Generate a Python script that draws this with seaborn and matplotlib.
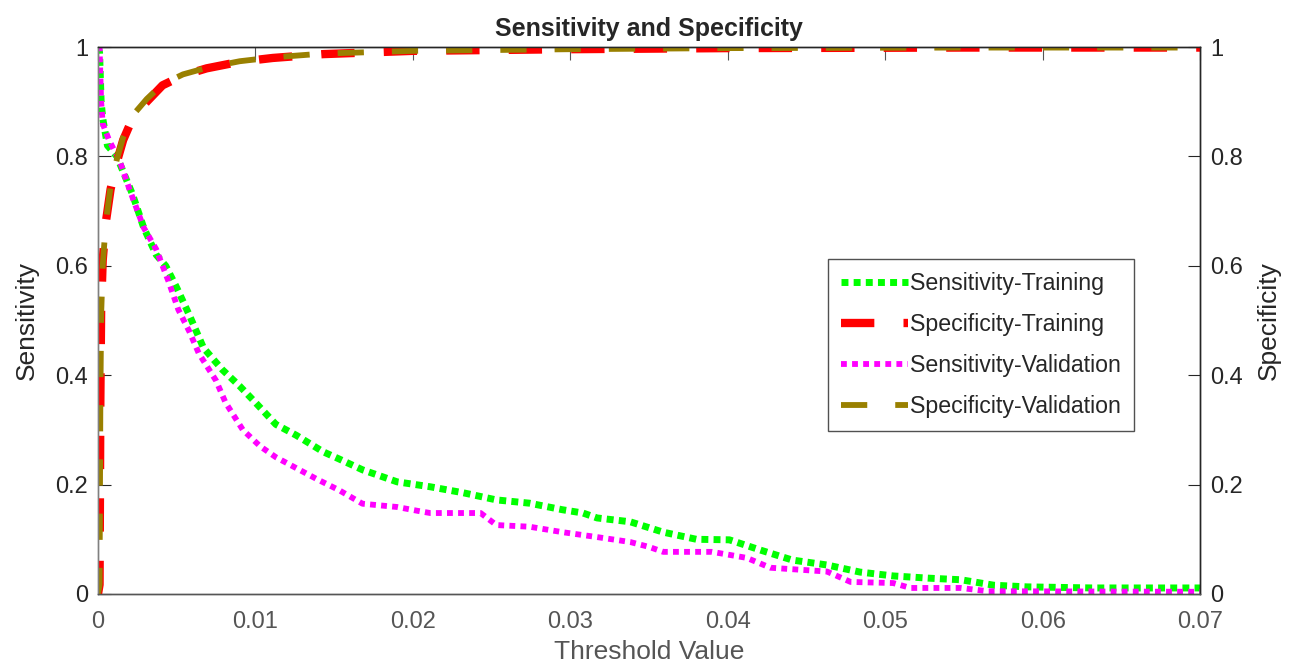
import numpy as np
import pandas as pd
import matplotlib
matplotlib.use("Agg")
import matplotlib.pyplot as plt
import seaborn as sns

# --- data ---
sens_train_x = [0.0, 0.0001, 0.0002, 0.0003, 0.0006, 0.0012, 0.0022, 0.0029, 0.0037, 0.0043,
                0.005, 0.0058, 0.0067, 0.0079, 0.009, 0.01, 0.0113, 0.0126, 0.0143, 0.0153,
                0.0168, 0.019, 0.0211, 0.0232, 0.0253, 0.0274, 0.0295, 0.0308, 0.0317, 0.0338,
                0.0359, 0.038, 0.0401, 0.0421, 0.0441, 0.0463, 0.0484, 0.0505, 0.0527, 0.0548,
                0.0569, 0.059, 0.0632, 0.07]
sens_train_y = [1.0, 0.99, 0.90, 0.87, 0.82, 0.80, 0.73, 0.67, 0.62, 0.60,
                0.56, 0.51, 0.45, 0.41, 0.38, 0.35, 0.31, 0.29, 0.26, 0.247,
                0.227, 0.205, 0.196, 0.185, 0.172, 0.166, 0.154, 0.148, 0.139, 0.132,
                0.113, 0.10, 0.099, 0.08, 0.062, 0.053, 0.04, 0.033, 0.029, 0.026,
                0.016, 0.013, 0.011, 0.011]

sens_val_x = [0.0, 0.0001, 0.0002, 0.0003, 0.0007, 0.0014, 0.002, 0.0029, 0.0037, 0.0045,
              0.0051, 0.0058, 0.0064, 0.0075, 0.0081, 0.0092, 0.0103, 0.0113, 0.0126, 0.0139,
              0.0153, 0.0168, 0.019, 0.0203, 0.0211, 0.0243, 0.0253, 0.0274, 0.0295, 0.0317,
              0.0338, 0.035, 0.0359, 0.039, 0.0412, 0.0427, 0.0463, 0.0478, 0.0505, 0.0516,
              0.0548, 0.0565, 0.07]
sens_val_y = [1.0, 1.0, 0.90, 0.86, 0.83, 0.79, 0.74, 0.67, 0.63, 0.57,
              0.52, 0.48, 0.44, 0.39, 0.35, 0.30, 0.27, 0.25, 0.23, 0.21,
              0.19, 0.165, 0.159, 0.152, 0.148, 0.148, 0.126, 0.123, 0.113, 0.104,
              0.095, 0.086, 0.077, 0.077, 0.066, 0.048, 0.041, 0.022, 0.020, 0.011,
              0.011, 0.005, 0.004]

spec_x = [0.0, 0.0001, 0.00015, 0.0002, 0.0003, 0.0005, 0.0008, 0.0012, 0.0016, 0.0022,
          0.0031, 0.0041, 0.0054, 0.0069, 0.009, 0.0111, 0.0143, 0.02, 0.03, 0.04,
          0.055, 0.07]
spec_train_y = [0.0, 0.017, 0.355, 0.52, 0.61, 0.68, 0.74, 0.79, 0.83, 0.87,
                0.90, 0.93, 0.948, 0.961, 0.973, 0.98, 0.987, 0.993, 0.996, 0.998,
                0.999, 0.999]
spec_val_y = [0.0, 0.017, 0.35, 0.51, 0.60, 0.68, 0.745, 0.795, 0.835, 0.875,
              0.905, 0.932, 0.95, 0.962, 0.974, 0.981, 0.988, 0.993, 0.996, 0.998,
              0.999, 0.999]

x_ticks = [0, 0.01, 0.02, 0.03, 0.04, 0.05, 0.06, 0.07]
x_tick_labels = ["0", "0.01", "0.02", "0.03", "0.04", "0.05", "0.06", "0.07"]
y_ticks = [0, 0.2, 0.4, 0.6, 0.8, 1.0]
y_tick_labels = ["0", "0.2", "0.4", "0.6", "0.8", "1"]

sens_train = pd.DataFrame({"x": sens_train_x, "y": sens_train_y})
sens_val = pd.DataFrame({"x": sens_val_x, "y": sens_val_y})
spec_train = pd.DataFrame({"x": spec_x, "y": spec_train_y})
spec_val = pd.DataFrame({"x": spec_x, "y": spec_val_y})

sns.set_style("white")
plt.rcParams["font.family"] = ["Liberation Sans", "DejaVu Sans"]

fig = plt.figure(figsize=(13.03, 6.65), dpi=100)
ax = fig.add_axes([0.0752, 0.1068, 0.8459, 0.8225])
ax2 = ax.twinx()

dark = "#262626"
xgray = "#555555"

sns.lineplot(data=sens_train, x="x", y="y", ax=ax, color="#00ff00", lw=5.0,
             linestyle=(0, (1, 0.75)), estimator=None, sort=False,
             label="Sensitivity-Training", legend=False)
sns.lineplot(data=sens_val, x="x", y="y", ax=ax, color="#ff00ff", lw=4.2,
             linestyle=(0, (1, 0.9)), estimator=None, sort=False,
             label="Sensitivity-Validation", legend=False)
sns.lineplot(data=spec_train, x="x", y="y", ax=ax2, color="#ff0000", lw=6.0,
             linestyle=(0, (4.0, 3.5)), estimator=None, sort=False,
             label="Specificity-Training", legend=False)
sns.lineplot(data=spec_val, x="x", y="y", ax=ax2, color="#998000", lw=4.2,
             linestyle=(0, (4.5, 4.8)), estimator=None, sort=False,
             label="Specificity-Validation", legend=False)

for a in (ax, ax2):
    a.set_xlim(0, 0.07)
    a.set_ylim(0, 1)
    a.set_yticks(y_ticks)
    a.set_yticklabels(y_tick_labels)
    a.tick_params(axis="y", direction="in", length=9, labelsize=17, colors=dark, pad=7)

ax.set_xticks(x_ticks)
ax.set_xticklabels(x_tick_labels)
ax.tick_params(axis="x", direction="in", length=9, labelsize=17, colors=xgray, pad=12,
               top=True)
ax.tick_params(axis="y", left=True)
ax2.tick_params(axis="y", right=True)

for a in (ax, ax2):
    for s in a.spines.values():
        s.set_linewidth(1.0)
    a.spines["bottom"].set_color(xgray)
    a.spines["top"].set_color(dark)
    a.spines["left"].set_color("#808080")
    a.spines["right"].set_color(dark)

ax.set_xlabel("Threshold Value", fontsize=19, color=xgray, labelpad=5)
ax.set_ylabel("Sensitivity", fontsize=19, color=dark, labelpad=12)
ax2.set_ylabel("Specificity", fontsize=19, color=dark, labelpad=10)
ax.set_title("Sensitivity and Specificity", fontsize=18, fontweight="bold", color=dark, pad=8)

h1, l1 = ax.get_legend_handles_labels()
h2, l2 = ax2.get_legend_handles_labels()
handles = [h1[0], h2[0], h1[1], h2[1]]
labels = [l1[0], l2[0], l1[1], l2[1]]
leg = ax2.legend(handles, labels, loc="upper left", bbox_to_anchor=(0.6624, 0.6124),
                 fontsize=16.7, frameon=True, fancybox=False, handlelength=2.9,
                 handletextpad=0.1, labelspacing=0.78, borderpad=0.55, borderaxespad=0,
                 edgecolor=dark)
leg.get_frame().set_linewidth(1.0)
for t in leg.get_texts():
    t.set_color(dark)

fig.savefig("out.png", dpi=100)
